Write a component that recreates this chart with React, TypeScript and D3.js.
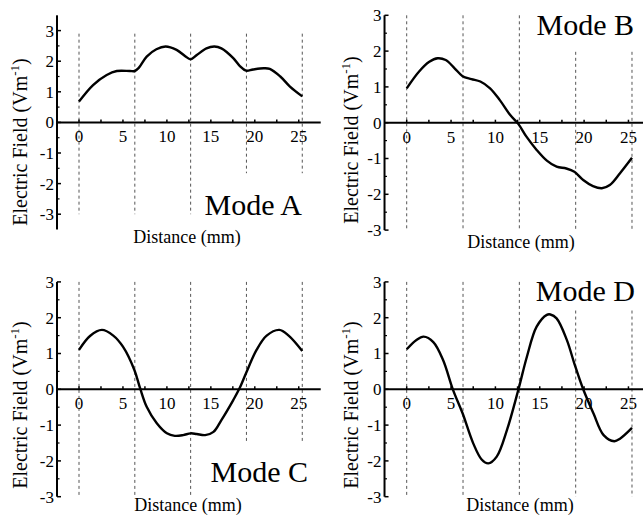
import * as d3 from 'd3';

const WIDTH = 643;
const HEIGHT = 517;
const FONT = "'Liberation Serif', 'DejaVu Serif', serif";

// field profiles: [distance mm, field V/m]
const modeA: [number, number][] = [
  [0, 0.68], [1.6, 1.22], [3.15, 1.55], [4.3, 1.68], [5.8, 1.68], [6.35, 1.68],
  [6.8, 1.78], [7.7, 2.15], [8.8, 2.39], [9.85, 2.48], [11.1, 2.37], [12.25, 2.13],
  [12.7, 2.06], [13.4, 2.2], [14.5, 2.42], [15.4, 2.48], [16.2, 2.42], [17.55, 2.1],
  [18.3, 1.84], [19.0, 1.69], [19.8, 1.73], [21.0, 1.77], [21.7, 1.75], [22.9, 1.5],
  [24.0, 1.17], [25.4, 0.85],
];
const modeB: [number, number][] = [
  [0, 0.96], [1.4, 1.43], [2.55, 1.7], [3.5, 1.8], [4.4, 1.75], [5.4, 1.52],
  [6.3, 1.3], [7.3, 1.22], [8.3, 1.15], [9.4, 0.96], [10.5, 0.63], [11.65, 0.22],
  [12.6, -0.04], [13.5, -0.39], [14.65, -0.76], [15.8, -1.06], [16.9, -1.23],
  [18.0, -1.28], [18.9, -1.37], [19.9, -1.6], [21.0, -1.77], [22.0, -1.83],
  [22.9, -1.74], [24.05, -1.41], [25.4, -0.98],
];
const modeC: [number, number][] = [
  [0, 1.1], [1.25, 1.49], [2.6, 1.66], [3.9, 1.5], [5.0, 1.19], [6.3, 0.54],
  [6.95, 0.03], [7.7, -0.49], [8.85, -0.95], [10.0, -1.23], [10.9, -1.3],
  [11.85, -1.28], [12.7, -1.23], [13.4, -1.25], [14.35, -1.28], [15.3, -1.19],
  [16.2, -0.86], [17.55, -0.3], [18.25, 0.02], [19.0, 0.45], [20.2, 1.1],
  [21.35, 1.5], [22.8, 1.66], [23.85, 1.5], [25.4, 1.07],
];
const modeD: [number, number][] = [
  [0, 1.12], [1.1, 1.38], [1.9, 1.47], [3.0, 1.32], [4.1, 0.82], [5.2, 0.0],
  [6.3, -0.67], [7.5, -1.51], [8.45, -1.96], [9.2, -2.07], [10.15, -1.88],
  [11.3, -1.14], [12.6, 0.0], [13.55, 0.91], [14.65, 1.75], [15.8, 2.08],
  [16.2, 2.09], [16.9, 1.98], [18.05, 1.38], [18.9, 0.72], [19.9, 0.0],
  [21.05, -0.67], [22.2, -1.28], [23.4, -1.45], [24.05, -1.38], [25.4, -1.08],
];

const xTickLabels = [0, 5, 10, 15, 20, 25];
const xTickMarks = [0, 2.5, 5, 7.5, 10, 12.5, 15, 17.5, 20, 22.5, 25];
const yTickLabels = [-3, -2, -1, 0, 1, 2, 3];
const yMinorTicks = [-2.5, -1.5, -0.5, 0.5, 1.5, 2.5];
const guideX = [0, 6.35, 12.7, 19.05, 25.4];
// vertical extent [bottom, top] of each dashed guide
const guideSpanA = [[-3, 2.9], [-3, 2.9], [-3, 2.9], [-1.66, 2.9], [-1.66, 2.9]];
const guideSpanB = [[-3, 3], [-3, 3], [-3, 3], [-3, 1.98], [-3, 1.98]];
const guideSpanC = [[-3, 3], [-3, 3], [-3, 3], [-1.51, 3], [-1.51, 3]];
const guideSpanD = [[-3, 3], [-3, 3], [-3, 3], [-3, 2.2], [-3, 2.2]];

const panels = [
  { mode: 'Mode A', data: modeA, guides: guideSpanA, left: 79, pxMm: 8.79, zeroY: 122.4, pxUnit: 30.6, ext: 3.5,
    modeX: 302, modeY: 215, xTitleX: 187, xTitleY: 243, yTitleX: 26.5, yTitleY: 142 },
  { mode: 'Mode B', data: modeB, guides: guideSpanB, left: 406.7, pxMm: 8.87, zeroY: 122.7, pxUnit: 35.8, ext: 3,
    modeX: 634, modeY: 35, xTitleX: 521, xTitleY: 248, yTitleX: 358, yTitleY: 140 },
  { mode: 'Mode C', data: modeC, guides: guideSpanC, left: 79, pxMm: 8.79, zeroY: 389.3, pxUnit: 35.8, ext: 3,
    modeX: 308, modeY: 482, xTitleX: 188, xTitleY: 511, yTitleX: 26.5, yTitleY: 405 },
  { mode: 'Mode D', data: modeD, guides: guideSpanD, left: 406.7, pxMm: 8.87, zeroY: 389.3, pxUnit: 35.8, ext: 3,
    modeX: 635, modeY: 301, xTitleX: 520, xTitleY: 511, yTitleX: 358, yTitleY: 405 },
];

type PanelProps = (typeof panels)[number];

function Panel(p: PanelProps) {
  const x = d3.scaleLinear().domain([0, 25]).range([p.left, p.left + 25 * p.pxMm]);
  const y = d3.scaleLinear().domain([-3, 3]).range([p.zeroY + 3 * p.pxUnit, p.zeroY - 3 * p.pxUnit]);
  const line = d3.line<[number, number]>()
    .x((d) => x(d[0]))
    .y((d) => y(d[1]))
    .curve(d3.curveCatmullRom.alpha(0.5));
  const ax = x(-2.5);

  return (
    <g>
      {guideX.map((g, i) => (
        <line key={'g' + i} x1={x(g)} x2={x(g)} y1={y(p.guides[i][1])} y2={y(p.guides[i][0])}
          stroke="#555" strokeWidth={1} strokeDasharray="3,3" />
      ))}

      {/* x axis */}
      <line x1={ax} x2={x(27.5)} y1={y(0)} y2={y(0)} stroke="#000" strokeWidth={2} />
      {xTickMarks.map((t) => (
        <line key={'xt' + t} x1={x(t)} x2={x(t)} y1={y(0)} y2={y(0) - 3} stroke="#000" strokeWidth={1.5} />
      ))}
      {xTickLabels.map((t) => (
        <text key={'xl' + t} x={x(t)} y={y(0) + 20} textAnchor="middle" fontSize={17} style={{ fontFamily: FONT }}>{t}</text>
      ))}

      {/* y axis */}
      <line x1={ax} x2={ax} y1={y(-p.ext)} y2={y(p.ext)} stroke="#000" strokeWidth={2} />
      {yTickLabels.map((t) => (
        <g key={'yt' + t}>
          <line x1={ax} x2={ax + 4} y1={y(t)} y2={y(t)} stroke="#000" strokeWidth={1.5} />
          <text x={ax - 3} y={y(t)} dy="0.35em" textAnchor="end" fontSize={17} style={{ fontFamily: FONT }}>{t}</text>
        </g>
      ))}
      {yMinorTicks.map((t) => (
        <line key={'ym' + t} x1={ax} x2={ax + 2.5} y1={y(t)} y2={y(t)} stroke="#000" strokeWidth={1.2} />
      ))}

      <path d={line(p.data) ?? ''} fill="none" stroke="#000" strokeWidth={2.4} />

      <text x={p.modeX} y={p.modeY} textAnchor="end" fontSize={30} style={{ fontFamily: FONT }}>{p.mode}</text>
      <text x={p.xTitleX} y={p.xTitleY} textAnchor="middle" fontSize={18} style={{ fontFamily: FONT }}>Distance (mm)</text>
      <text transform={`translate(${p.yTitleX},${p.yTitleY}) rotate(-90)`} textAnchor="middle" fontSize={20} style={{ fontFamily: FONT }}>
        Electric Field (Vm<tspan fontSize={13} dy={-8}>-1</tspan><tspan dy={8}>)</tspan>
      </text>
    </g>
  );
}

export default function App() {
  return (
    <div style={{ position: 'absolute', left: 0, top: 0 }}>
      <svg width={WIDTH} height={HEIGHT} viewBox={`0 0 ${WIDTH} ${HEIGHT}`} style={{ display: 'block', background: '#fff' }}>
        {panels.map((p) => <Panel key={p.mode} {...p} />)}
      </svg>
    </div>
  );
}
